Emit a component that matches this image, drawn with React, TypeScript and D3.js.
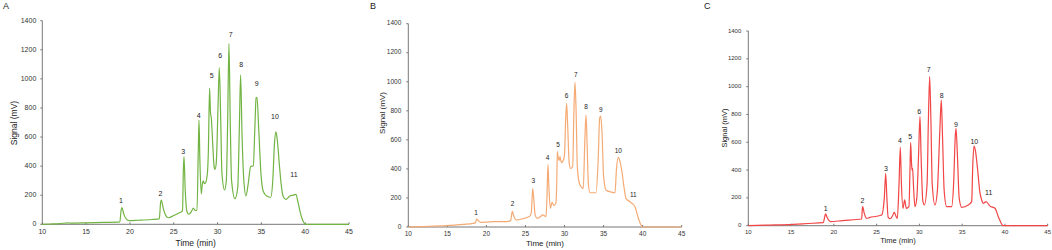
import React from "react";
import * as d3 from "d3";

// ---------- DATA ----------
const xTicks = [10, 15, 20, 25, 30, 35, 40, 45];
const yTicks = [0, 200, 400, 600, 800, 1000, 1200, 1400];
const peakNames = ["1", "2", "3", "4", "5", "6", "7", "8", "9", "10", "11"];

// Chromatogram A (time min, signal mV)
const seriesA: [number, number][] = [
  [10, 0], [11, 2], [12, 5], [12.9, 10], [13.2, 8], [15, 10], [17, 13], [18.85, 17], [19.0, 100], [19.09, 115],
  [19.3, 70], [19.6, 35], [19.9, 25], [21, 28], [22.5, 33], [23.35, 37], [23.5, 150], [23.58, 167], [23.8, 110],
  [24.1, 60], [24.4, 45], [25, 60], [25.6, 78], [26.0, 92], [26.1, 380], [26.17, 465], [26.3, 250], [26.5, 90],
  [26.7, 69], [27.0, 85], [27.23, 112], [27.45, 95], [27.65, 95], [27.8, 500], [27.88, 717], [27.98, 450],
  [28.14, 209], [28.25, 270], [28.37, 298], [28.5, 280], [28.6, 282], [28.83, 344], [28.95, 500], [29.09, 937],
  [29.2, 760], [29.28, 736], [29.45, 550], [29.6, 400], [29.7, 378], [29.85, 420], [30.05, 800], [30.2, 1077],
  [30.35, 750], [30.5, 350], [30.8, 236], [31.0, 300], [31.15, 700], [31.3, 1242], [31.45, 700], [31.6, 300],
  [31.99, 176], [32.3, 250], [32.5, 700], [32.63, 1027], [32.8, 600], [33.0, 300], [33.24, 195], [33.5, 280],
  [33.77, 396], [34.08, 403], [34.25, 650], [34.4, 870], [34.5, 873], [34.7, 650], [34.95, 350], [35.22, 225],
  [35.6, 195], [36.06, 186], [36.3, 300], [36.5, 560], [36.66, 635], [36.8, 590], [37.04, 420], [37.25, 280],
  [37.5, 190], [37.8, 172], [38.26, 195], [38.6, 200], [38.95, 206], [39.15, 160], [39.33, 110], [39.7, 30],
  [40.09, 0], [45, 0],
];
const labelTimesA = [18.98, 23.47, 26.09, 27.84, 29.32, 30.31, 31.49, 32.71, 34.46, 36.55, 38.72];
const labelValuesA = [156, 208, 495, 747, 1020, 1153, 1302, 1095, 962, 740, 339];

// Chromatogram B
const seriesB: [number, number][] = [
  [10, 0], [12, 3], [14.9, 9], [17, 18], [18.3, 25], [18.6, 30], [18.75, 55], [18.95, 45], [19.26, 32], [20, 33],
  [20.9, 37], [22.6, 37], [23.1, 44], [23.25, 90], [23.32, 108], [23.5, 75], [23.87, 48], [24.5, 55], [25.58, 76],
  [25.75, 100], [25.92, 264], [26.05, 200], [26.25, 80], [26.5, 60], [26.9, 70], [27.2, 83], [27.63, 71],
  [27.75, 200], [27.88, 429], [27.98, 300], [28.18, 129], [28.4, 170], [28.65, 147], [28.9, 168], [29.0, 300],
  [29.08, 519], [29.18, 480], [29.29, 457], [29.42, 484], [29.59, 443], [29.85, 461], [30.0, 500], [30.15, 750],
  [30.27, 851], [30.4, 700], [30.6, 440], [30.78, 404], [31.04, 415], [31.2, 800], [31.34, 996], [31.48, 800],
  [31.65, 400], [31.98, 289], [32.4, 266], [32.6, 600], [32.75, 771], [32.9, 550], [33.05, 300], [33.26, 236],
  [34.03, 236], [34.3, 450], [34.5, 750], [34.63, 764], [34.8, 650], [35.0, 350], [35.31, 255], [36.0, 240],
  [36.46, 236], [36.65, 400], [36.89, 480], [37.1, 450], [37.32, 392], [37.6, 280], [37.87, 197], [38.38, 174],
  [38.7, 160], [39.02, 140], [39.45, 60], [40.0, 0], [45, 0],
];
const labelTimesB = [18.66, 23.36, 26.0, 27.84, 29.16, 30.27, 31.43, 32.75, 34.63, 36.89, 38.81];
const labelValuesB = [94, 154, 317, 473, 565, 897, 1047, 822, 801, 523, 220];

// Chromatogram C
const seriesC: [number, number][] = [
  [10, 0], [12, 4], [15.26, 10], [17, 16], [18.77, 22], [18.95, 70], [19.04, 86], [19.2, 60], [19.4, 40],
  [19.63, 29], [21, 37], [23.25, 48], [23.33, 120], [23.37, 137], [23.55, 90], [23.83, 53], [24.22, 60], [25, 68],
  [25.59, 77], [25.9, 200], [26.06, 376], [26.2, 200], [26.35, 60], [26.6, 50], [26.85, 70], [27.07, 96],
  [27.25, 70], [27.42, 53], [27.62, 300], [27.77, 563], [27.9, 300], [28.08, 125], [28.28, 185], [28.47, 125],
  [28.78, 137], [28.9, 400], [28.98, 597], [29.08, 450], [29.14, 400], [29.21, 412], [29.3, 300], [29.48, 137],
  [29.7, 200], [29.9, 500], [30.07, 784], [30.2, 500], [30.4, 180], [30.58, 149], [30.9, 300], [31.05, 750],
  [31.2, 1072], [31.35, 750], [31.5, 300], [31.82, 149], [32.1, 250], [32.4, 700], [32.56, 904], [32.7, 650],
  [32.9, 250], [33.19, 137], [33.77, 137], [34.0, 300], [34.2, 650], [34.28, 700], [34.45, 500], [34.65, 200],
  [34.94, 132], [35.72, 149], [36.11, 173], [36.25, 450], [36.38, 573], [36.55, 540], [36.85, 376], [37.05, 250],
  [37.28, 185], [37.47, 161], [37.79, 173], [38.25, 141], [38.84, 125], [39.23, 65], [39.81, 0], [45, 0],
];
const labelTimesC = [19.04, 23.33, 26.1, 27.73, 28.94, 29.99, 31.08, 32.6, 34.28, 36.42, 38.1];
const labelValuesC = [122, 180, 410, 607, 640, 815, 1115, 928, 726, 604, 233];

// ---------- LAYOUT ----------
type PanelCfg = {
  letter: string;
  letterX: number;
  letterY: number;
  x0: number;
  x1: number;
  yBottom: number;
  yTop: number;
  color: string;
  series: [number, number][];
  labelTimes: number[];
  labelValues: number[];
  tickFont: number;
  titleFont: number;
  peakFont: number;
  tickLabelY: number;
  xTitleY: number;
  yTitleX: number;
  yTitleY: number;
  yTickGap: number;
};

const panels: PanelCfg[] = [
  {
    letter: "A", letterX: 3, letterY: 7, x0: 42.3, x1: 349, yBottom: 224.3, yTop: 20.7,
    color: "#72b443", series: seriesA, labelTimes: labelTimesA, labelValues: labelValuesA,
    tickFont: 7, titleFont: 8.5, peakFont: 7, tickLabelY: 232.5, xTitleY: 243.7, yTitleX: 15, yTitleY: 123, yTickGap: 6,
  },
  {
    letter: "B", letterX: 370, letterY: 6.5, x0: 408.3, x1: 681.7, yBottom: 227, yTop: 23.7,
    color: "#f5aa74", series: seriesB, labelTimes: labelTimesB, labelValues: labelValuesB,
    tickFont: 6.5, titleFont: 8, peakFont: 6.5, tickLabelY: 234.3, xTitleY: 243.7, yTitleX: 383.3, yTitleY: 113, yTickGap: 7,
  },
  {
    letter: "C", letterX: 704, letterY: 7, x0: 748.3, x1: 1047.7, yBottom: 225.7, yTop: 31,
    color: "#f24545", series: seriesC, labelTimes: labelTimesC, labelValues: labelValuesC,
    tickFont: 6, titleFont: 7.5, peakFont: 7, tickLabelY: 232.3, xTitleY: 241, yTitleX: 725, yTitleY: 128, yTickGap: 7,
  },
];

const FONT = "'Liberation Sans', Arial, sans-serif";

function Panel({ cfg }: { cfg: PanelCfg }) {
  const x = d3.scaleLinear().domain([10, 45]).range([cfg.x0, cfg.x1]);
  const y = d3.scaleLinear().domain([0, 1400]).range([cfg.yBottom, cfg.yTop]);
  const line = d3
    .line<[number, number]>()
    .x((d) => x(d[0]))
    .y((d) => y(d[1]))
    .curve(d3.curveMonotoneX);
  const axisColor = "#777";
  return (
    <g>
      <text x={cfg.letterX} y={cfg.letterY} dominantBaseline="middle" fontFamily={FONT} fontSize={9} fill="#222">
        {cfg.letter}
      </text>
      {/* axes */}
      <line x1={cfg.x0} x2={cfg.x1} y1={cfg.yBottom} y2={cfg.yBottom} stroke={axisColor} strokeWidth={1} />
      <line x1={cfg.x0} x2={cfg.x0} y1={cfg.yBottom} y2={cfg.yTop} stroke={axisColor} strokeWidth={1} />
      {xTicks.map((t) => (
        <g key={"xt" + t}>
          <line x1={x(t)} x2={x(t)} y1={cfg.yBottom} y2={cfg.yBottom - 2} stroke={axisColor} strokeWidth={1} />
          <text x={x(t)} y={cfg.tickLabelY} textAnchor="middle" dominantBaseline="middle" fontFamily={FONT} fontSize={cfg.tickFont} fill="#333">
            {t}
          </text>
        </g>
      ))}
      {yTicks.map((v) => (
        <g key={"yt" + v}>
          <line x1={cfg.x0} x2={cfg.x0 - 2} y1={y(v)} y2={y(v)} stroke={axisColor} strokeWidth={1} />
          <text x={cfg.x0 - cfg.yTickGap} y={y(v)} textAnchor="end" dominantBaseline="middle" fontFamily={FONT} fontSize={cfg.tickFont} fill="#333">
            {v}
          </text>
        </g>
      ))}
      <text x={(cfg.x0 + cfg.x1) / 2} y={cfg.xTitleY} textAnchor="middle" dominantBaseline="middle" fontFamily={FONT} fontSize={cfg.titleFont} fill="#222">
        Time (min)
      </text>
      <text
        transform={`translate(${cfg.yTitleX},${cfg.yTitleY}) rotate(-90)`}
        textAnchor="middle"
        dominantBaseline="middle"
        fontFamily={FONT}
        fontSize={cfg.titleFont}
        fill="#222"
      >
        Signal (mV)
      </text>
      <path d={line(cfg.series) || ""} fill="none" stroke={cfg.color} strokeWidth={1.2} strokeLinejoin="round" />
      {peakNames.map((n, i) => (
        <text
          key={"pk" + n}
          x={x(cfg.labelTimes[i])}
          y={y(cfg.labelValues[i])}
          textAnchor="middle"
          dominantBaseline="middle"
          fontFamily={FONT}
          fontSize={cfg.peakFont}
          fill="#222"
        >
          {n}
        </text>
      ))}
    </g>
  );
}

export default function App() {
  return (
    <svg width={1052} height={250} style={{ position: "absolute", left: 0, top: 0, background: "#fff" }}>
      <rect x={0} y={0} width={1052} height={250} fill="#fff" />
      {panels.map((p) => (
        <Panel key={p.letter} cfg={p} />
      ))}
    </svg>
  );
}
